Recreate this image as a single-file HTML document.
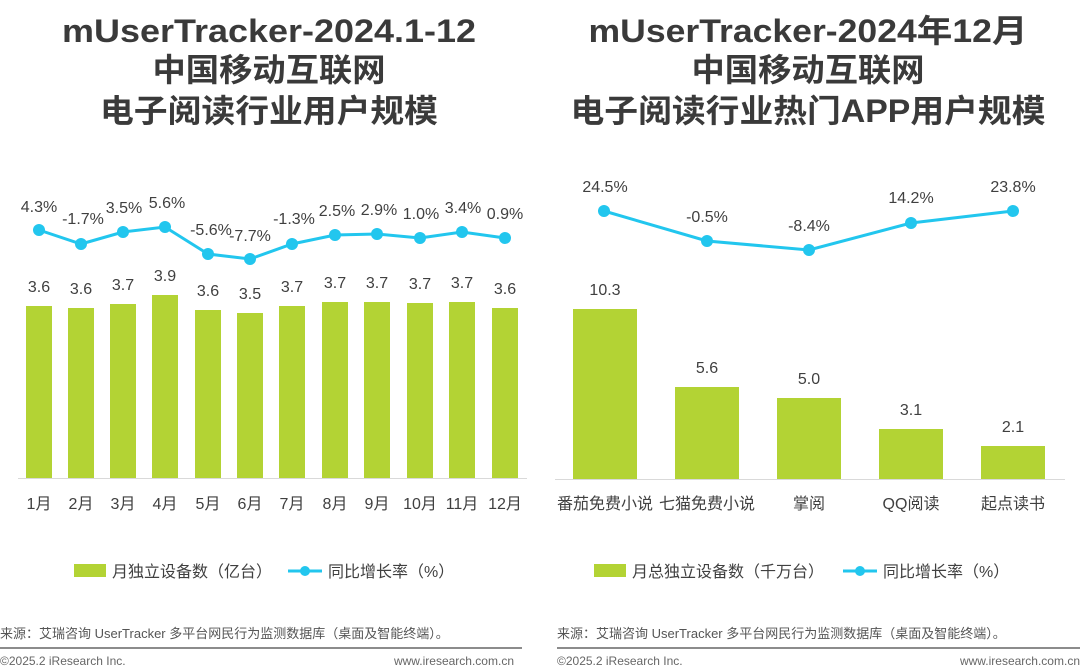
<!DOCTYPE html>
<html><head><meta charset="utf-8"><style>
html,body{margin:0;padding:0;background:#fff;}
svg{display:block;}
text{font-family:"Liberation Sans","Noto Sans CJK SC",sans-serif;}
</style></head><body>
<svg width="1080" height="670" viewBox="0 0 1080 670" xmlns="http://www.w3.org/2000/svg">
<g fill="#3a3a3a" font-weight="bold" text-anchor="middle">
<text x="269" y="42" font-size="32" textLength="414" lengthAdjust="spacingAndGlyphs">mUserTracker-2024.1-12</text>
<text x="269" y="81" font-size="32" textLength="233" lengthAdjust="spacingAndGlyphs">中国移动互联网</text>
<text x="269" y="122" font-size="32" textLength="338" lengthAdjust="spacingAndGlyphs">电子阅读行业用户规模</text>
<text x="808" y="42" font-size="32" textLength="439" lengthAdjust="spacingAndGlyphs">mUserTracker-2024年12月</text>
<text x="808" y="81" font-size="32" textLength="233" lengthAdjust="spacingAndGlyphs">中国移动互联网</text>
<text x="808" y="122" font-size="32" textLength="475" lengthAdjust="spacingAndGlyphs">电子阅读行业热门APP用户规模</text>
</g>
<!-- left axis -->
<line x1="18" y1="478.5" x2="527" y2="478.5" stroke="#d9d9d9" stroke-width="1"/>
<g fill="#b3d334">
<rect x="26" y="306" width="26" height="172"/>
<rect x="68" y="308" width="26" height="170"/>
<rect x="110" y="304" width="26" height="174"/>
<rect x="152" y="295" width="26" height="183"/>
<rect x="195" y="310" width="26" height="168"/>
<rect x="237" y="313" width="26" height="165"/>
<rect x="279" y="306" width="26" height="172"/>
<rect x="322" y="302" width="26" height="176"/>
<rect x="364" y="302" width="26" height="176"/>
<rect x="407" y="303" width="26" height="175"/>
<rect x="449" y="302" width="26" height="176"/>
<rect x="492" y="308" width="26" height="170"/>
</g>
<g fill="#404040" font-size="16" text-anchor="middle">
<text x="39" y="292">3.6</text><text x="81" y="294">3.6</text><text x="123" y="290">3.7</text><text x="165" y="281">3.9</text>
<text x="208" y="296">3.6</text><text x="250" y="299">3.5</text><text x="292" y="292">3.7</text><text x="335" y="288">3.7</text>
<text x="377" y="288">3.7</text><text x="420" y="289">3.7</text><text x="462" y="288">3.7</text><text x="505" y="294">3.6</text>
</g>
<polyline fill="none" stroke="#22c6ee" stroke-width="3" points="39,230 81,244 123,232 165,227 208,254 250,259 292,244 335,235 377,234 420,238 462,232 505,238"/>
<g fill="#22c6ee">
<circle cx="39" cy="230" r="6"/><circle cx="81" cy="244" r="6"/><circle cx="123" cy="232" r="6"/><circle cx="165" cy="227" r="6"/>
<circle cx="208" cy="254" r="6"/><circle cx="250" cy="259" r="6"/><circle cx="292" cy="244" r="6"/><circle cx="335" cy="235" r="6"/>
<circle cx="377" cy="234" r="6"/><circle cx="420" cy="238" r="6"/><circle cx="462" cy="232" r="6"/><circle cx="505" cy="238" r="6"/>
</g>
<g fill="#404040" font-size="16" text-anchor="middle">
<text x="39" y="212">4.3%</text><text x="83" y="224">-1.7%</text><text x="124" y="213">3.5%</text><text x="167" y="208">5.6%</text>
<text x="211" y="235">-5.6%</text><text x="250" y="241">-7.7%</text><text x="294" y="224">-1.3%</text><text x="337" y="216">2.5%</text>
<text x="379" y="215">2.9%</text><text x="421" y="219">1.0%</text><text x="463" y="213">3.4%</text><text x="505" y="219">0.9%</text>
</g>
<g fill="#404040" font-size="16" text-anchor="middle">
<text x="39" y="509">1月</text><text x="81" y="509">2月</text><text x="123" y="509">3月</text><text x="165" y="509">4月</text>
<text x="208" y="509">5月</text><text x="250" y="509">6月</text><text x="292" y="509">7月</text><text x="335" y="509">8月</text>
<text x="377" y="509">9月</text><text x="420" y="509">10月</text><text x="462" y="509">11月</text><text x="505" y="509">12月</text>
</g>
<!-- right -->
<line x1="555" y1="479.5" x2="1065" y2="479.5" stroke="#d9d9d9" stroke-width="1"/>
<g fill="#b3d334">
<rect x="573" y="309" width="64" height="170"/>
<rect x="675" y="387" width="64" height="92"/>
<rect x="777" y="398" width="64" height="81"/>
<rect x="879" y="429" width="64" height="50"/>
<rect x="981" y="446" width="64" height="33"/>
</g>
<g fill="#404040" font-size="16" text-anchor="middle">
<text x="605" y="295">10.3</text><text x="707" y="373">5.6</text><text x="809" y="384">5.0</text><text x="911" y="415">3.1</text><text x="1013" y="432">2.1</text>
</g>
<polyline fill="none" stroke="#22c6ee" stroke-width="3" points="604,211 707,241 809,250 911,223 1013,211"/>
<g fill="#22c6ee">
<circle cx="604" cy="211" r="6"/><circle cx="707" cy="241" r="6"/><circle cx="809" cy="250" r="6"/><circle cx="911" cy="223" r="6"/><circle cx="1013" cy="211" r="6"/>
</g>
<g fill="#404040" font-size="16" text-anchor="middle">
<text x="605" y="192">24.5%</text><text x="707" y="222">-0.5%</text><text x="809" y="231">-8.4%</text><text x="911" y="203">14.2%</text><text x="1013" y="192">23.8%</text>
</g>
<g fill="#404040" font-size="16" text-anchor="middle">
<text x="605" y="509">番茄免费小说</text><text x="707" y="509">七猫免费小说</text><text x="809" y="509">掌阅</text><text x="911" y="509">QQ阅读</text><text x="1013" y="509">起点读书</text>
</g>
<!-- legends -->
<g font-size="16" fill="#404040">
<rect x="74" y="564" width="32" height="13" fill="#b3d334"/>
<text x="112" y="577">月独立设备数（亿台）</text>
<line x1="288" y1="571" x2="322" y2="571" stroke="#22c6ee" stroke-width="3"/><circle cx="305" cy="571" r="5" fill="#22c6ee"/>
<text x="328" y="577">同比增长率（%）</text>
<rect x="594" y="564" width="32" height="13" fill="#b3d334"/>
<text x="632" y="577">月总独立设备数（千万台）</text>
<line x1="843" y1="571" x2="877" y2="571" stroke="#22c6ee" stroke-width="3"/><circle cx="860" cy="571" r="5" fill="#22c6ee"/>
<text x="883" y="577">同比增长率（%）</text>
</g>
<!-- footer -->
<g font-size="13" fill="#555">
<text x="0" y="638">来源：艾瑞咨询 UserTracker 多平台网民行为监测数据库（桌面及智能终端）。</text>
<text x="557" y="638">来源：艾瑞咨询 UserTracker 多平台网民行为监测数据库（桌面及智能终端）。</text>
</g>
<line x1="0" y1="648" x2="522" y2="648" stroke="#8c8c8c" stroke-width="2"/>
<line x1="557" y1="648" x2="1080" y2="648" stroke="#8c8c8c" stroke-width="2"/>
<g font-size="12" fill="#666">
<text x="0" y="665">©2025.2 iResearch Inc.</text>
<text x="514" y="665" text-anchor="end">www.iresearch.com.cn</text>
<text x="557" y="665">©2025.2 iResearch Inc.</text>
<text x="1080" y="665" text-anchor="end">www.iresearch.com.cn</text>
</g>
</svg>
</body></html>
